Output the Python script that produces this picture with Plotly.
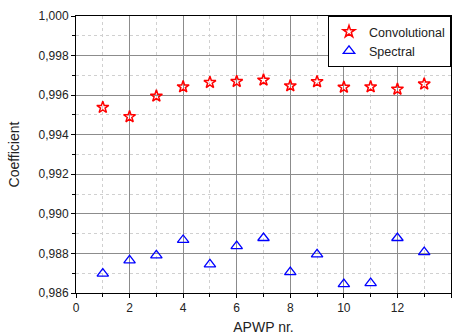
import plotly.graph_objects as go

apwp = [1, 2, 3, 4, 5, 6, 7, 8, 9, 10, 11, 12, 13]
convolutional = [0.99538, 0.99491, 0.99595, 0.99642, 0.99664, 0.99669, 0.99676,
                 0.99647, 0.99668, 0.99640, 0.99642, 0.99630, 0.99656]
spectral = [0.98698, 0.98765, 0.98790, 0.98868, 0.98745, 0.98837, 0.98878,
            0.98706, 0.98795, 0.98645, 0.98650, 0.98878, 0.98807]

fig = go.Figure()
fig.add_trace(go.Scatter(
    x=apwp, y=convolutional, mode="markers", name="Convolutional",
    marker=dict(symbol="star-open", size=9, color="red", line=dict(width=1.5, color="red")),
))
fig.add_trace(go.Scatter(
    x=apwp, y=spectral, mode="markers", name="Spectral",
    marker=dict(symbol="triangle-up-open", size=10, color="blue", line=dict(width=1.3, color="blue")),
))

axis_common = dict(
    showline=True, linecolor="black", linewidth=1, mirror=True,
    ticks="outside", ticklen=4, tickcolor="black", tickwidth=1,
    showgrid=True, gridcolor="#8c8c8c", gridwidth=1,
    zeroline=False, automargin=False,
    tickfont=dict(family="Liberation Sans, Arial, sans-serif", size=12, color="#222"),
)

fig.update_layout(
    width=456, height=335,
    margin=dict(l=76, r=5, t=16, b=42),
    paper_bgcolor="white", plot_bgcolor="white",
    separators=",.",
    font=dict(family="Liberation Sans, Arial, sans-serif", size=12, color="#222"),
    showlegend=True,
    legend=dict(
        x=1, y=1, xanchor="right", yanchor="top",
        bordercolor="black", borderwidth=1, bgcolor="white",
        font=dict(size=12.5, color="#222"),
        tracegroupgap=0, itemwidth=30,
    ),
    xaxis=dict(
        range=[0, 14], dtick=2, tick0=0,
        title=dict(text="APWP nr.", font=dict(size=14)),
        minor=dict(dtick=1, ticks="outside", ticklen=3, tickcolor="black",
                   showgrid=True, gridcolor="#d0d0d0", griddash="dot"),
        **axis_common,
    ),
    yaxis=dict(
        range=[0.986, 1.000], dtick=0.002, tick0=0.986, tickformat=".3f",
        title=dict(text="Coefficient", font=dict(size=14)),
        minor=dict(dtick=0.001, ticks="outside", ticklen=3, tickcolor="black",
                   showgrid=True, gridcolor="#d0d0d0", griddash="dot"),
        **axis_common,
    ),
)

fig.write_html("out.html")
